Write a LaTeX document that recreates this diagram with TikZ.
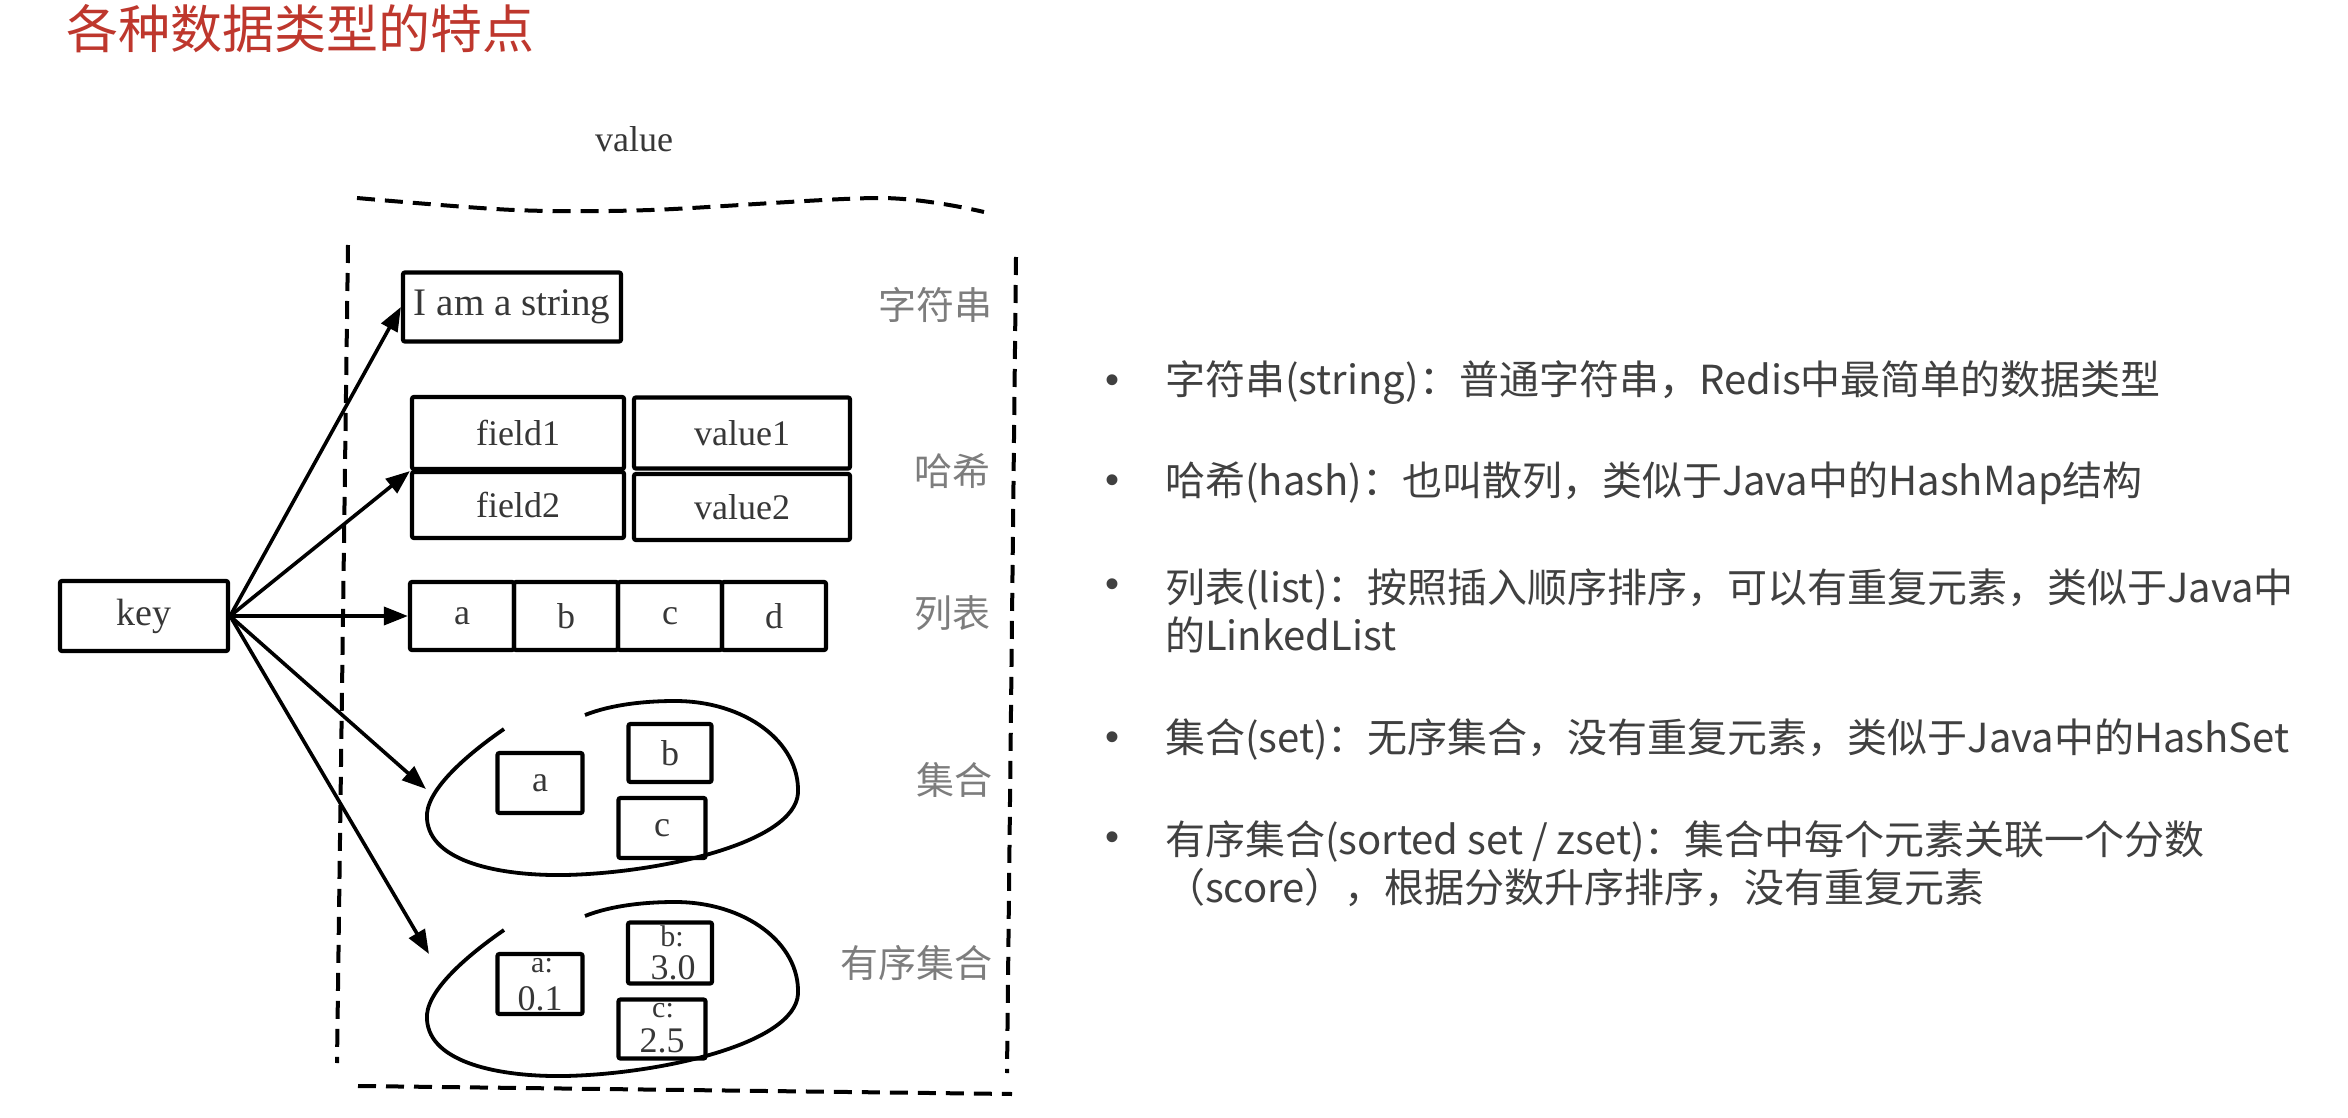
\documentclass[tikz,border=0pt]{standalone}
\usepackage{fontspec}
\setmainfont{Liberation Serif}
\newfontfamily\cjk{Noto Sans CJK SC}
\newfontfamily\bulletfont{Liberation Sans}
\usetikzlibrary{arrows.meta}
\definecolor{titlered}{RGB}{190,55,45}
\definecolor{bodygray}{RGB}{64,64,64}
\definecolor{inkgray}{RGB}{55,55,55}
\definecolor{labelgray}{RGB}{125,125,125}
\begin{document}
\begin{tikzpicture}[x=1pt,y=-1pt,
  box/.style={draw=black, line width=4.2pt, inner sep=0pt, rounded corners=2pt, text=inkgray,
     font=\fontsize{36}{40}\selectfont},
  frame/.style={draw=black, line width=4pt, dash pattern=on 18pt off 10pt},
  link/.style={draw=black, line width=3.6pt, -{Triangle[length=24pt,width=18pt]}},
  blobline/.style={draw=black, line width=3.8pt},
  tag/.style={text=labelgray, font=\cjk\fontsize{38}{40}\selectfont, anchor=east, inner sep=0pt},
  small/.style={text=inkgray, font=\fontsize{30}{30}\selectfont, inner sep=0pt},
  num/.style={text=inkgray, font=\fontsize{36}{36}\selectfont, inner sep=0pt},
  btext/.style={text=bodygray, font=\cjk\fontsize{40}{48}\selectfont, anchor=west, inner sep=0pt, align=left},
  bdot/.style={text=bodygray, font=\bulletfont\fontsize{40}{40}\selectfont, inner sep=0pt}
]
\useasboundingbox (0,0) rectangle (2348,1118);
\fill[white] (0,0) rectangle (2348,1118);

\node[text=titlered, font=\cjk\fontsize{52}{56}\selectfont, anchor=west, inner sep=0pt] (title) at (66,29) {各种数据类型的特点};

\node[text=inkgray, font=\fontsize{36}{40}\selectfont, inner sep=0pt] (valuelbl) at (634,139) {value};

% dashed frame
\draw[frame] plot[smooth] coordinates {(357,198) (514,210) (651,210) (881,198) (984,212)};
\draw[frame] (348,245) -- (337,1063);
\draw[frame] (1016,257) -- (1007,1073);
\draw[frame] (358,1086) -- (1012,1094);

% key
\node[box, minimum width=168pt, minimum height=70pt, font=\fontsize{38}{40}\selectfont] (key) at (144,616) {key};

% string
\node[box, minimum width=218pt, minimum height=69pt, font=\fontsize{39}{42}\selectfont] (str) at (512,307) {I am a string};

% hash
\node[box, minimum width=212pt, minimum height=72pt] (f1) at (518,433) {field1};
\node[box, minimum width=216pt, minimum height=71pt] (v1) at (742,433) {value1};
\node[box, minimum width=212pt, minimum height=66pt] (f2) at (518,505) {field2};
\node[box, minimum width=216pt, minimum height=66pt] (v2) at (742,507) {value2};

% list
\node[box, minimum width=104pt, minimum height=68pt] (l1) at (462,616) {a};
\node[box, minimum width=104pt, minimum height=68pt] (l2) at (566,616) {b};
\node[box, minimum width=104pt, minimum height=68pt] (l3) at (670,616) {c};
\node[box, minimum width=104pt, minimum height=68pt] (l4) at (774,616) {d};

% set and sorted set outlines
\foreach \dy in {0,201} {
  \draw[blobline, shift={(0,\dy)}] (504,729) .. controls (465,756) and (424,792) .. (427,819)
     .. controls (430,862) and (500,876) .. (565,875)
     .. controls (660,873) and (795,843) .. (798,793)
     .. controls (800,742) and (745,701) .. (675,701)
     .. controls (635,701) and (605,707) .. (585,715);
}

% set
\node[box, minimum width=85pt, minimum height=60pt] (sa) at (540,783) {a};
\node[box, minimum width=83pt, minimum height=58pt] (sb) at (670,753) {b};
\node[box, minimum width=87pt, minimum height=60pt] (sc) at (662,828) {c};

% sorted set
\node[box, minimum width=85pt, minimum height=60pt] (za) at (540,984) {};
\node[box, minimum width=84pt, minimum height=61pt] (zb) at (670,953) {};
\node[box, minimum width=87pt, minimum height=59pt] (zc) at (662,1029) {};
\node[small] (zal) at (542,966) {a:};
\node[num] (zan) at (540,999) {0.1};
\node[small] (zbl) at (672,936) {b:};
\node[num] (zbn) at (673,968) {3.0};
\node[small] (zcl) at (663,1011) {c:};
\node[num] (zcn) at (662,1041) {2.5};

% tags
\node[tag] (t1) at (993,305) {字符串};
\node[tag] (t2) at (991,471) {哈希};
\node[tag] (t3) at (991,613) {列表};
\node[tag] (t4) at (993,780) {集合};
\node[tag] (t5) at (993,963) {有序集合};

% arrows
\coordinate (settip) at (426,789);
\coordinate (zsettip) at (429,954);
\draw[link] (key.east) -- (str.west);
\draw[link] (key.east) -- (f1.south west);
\draw[link] (key.east) -- (l1.west);
\draw[link] (key.east) -- (settip);
\draw[link] (key.east) -- (zsettip);

% right text
\node[bdot] (d1) at (1112,384) {•};
\node[btext] (b1) at (1165,383) {字符串(string)：普通字符串，Redis中最简单的数据类型};
\node[bdot] (d2) at (1112,484) {•};
\node[btext] (b2) at (1165,483) {哈希(hash)：也叫散列，类似于Java中的HashMap结构};
\node[bdot] (d3) at (1112,588) {•};
\node[btext] (b3) at (1165,611) {列表(list)：按照插入顺序排序，可以有重复元素，类似于Java中\\的LinkedList};
\node[bdot] (d4) at (1112,741) {•};
\node[btext] (b4) at (1165,740) {集合(set)：无序集合，没有重复元素，类似于Java中的HashSet};
\node[bdot] (d5) at (1112,841) {•};
\node[btext] (b5) at (1165,863.5) {有序集合(sorted set / zset)：集合中每个元素关联一个分数\\（score），根据分数升序排序，没有重复元素};
\end{tikzpicture}
\end{document}
